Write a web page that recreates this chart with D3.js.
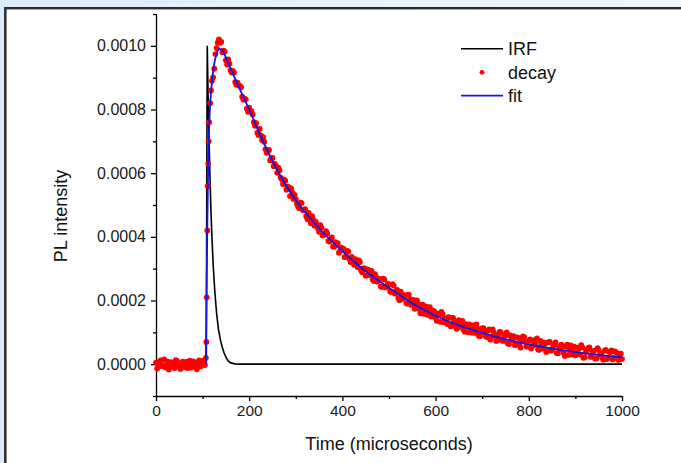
<!DOCTYPE html>
<html>
<head>
<meta charset="utf-8">
<script src="https://cdn.jsdelivr.net/npm/d3@7"></script>
<style>
  body { margin: 0; background: #ffffff; }
  svg { display: block; font-family: "Liberation Sans", Arial, sans-serif; }
</style>
</head>
<body>
<svg class="chart" width="681" height="463"></svg>
<script>
// values are in units of 1e-6
const xTicks = [0, 200, 400, 600, 800, 1000]
const xMinor = [100, 300, 500, 700, 900]
const yTicks = [0, 200, 400, 600, 800, 1000]
const yMinor = [-100, 100, 300, 500, 700, 900, 1100]

// IRF [time, value]
const irf = [[0,0],[108,0],[109,600],[110,1000],[112,830],[114,695],[116,580],[118,480],[120,400],
  [123,305],[126,233],[130,160],[134,110],[138,78],[142,54],[146,36],[150,22],[155,10],[160,4],
  [170,1],[180,0],[1000,0]]

// decay, baseline before the pulse: t=0 step 5 and t=2.5 step 5
const baseValues = [5,-8,12,-3,-10,8,-5,3,-12,10,-6,4,-9,7,-2,-11,9,-4,6,-7,10,-3]
const baseValues2 = [-14,9,-6,15,-2,-17,6,-10,13,-4,-15,8,1,-12,11,-8,4,-16,12,-5,2]
// rising edge [time, value]
const risePoints = [[107,20],[108,70],[109,210],[110,420],[111,560],[112,630],[113,700],[114,760],[116,820],[118,860]]
// decay after the pulse: t=120 step 5
const decayValues = [890,928,993,1020,1012,985,955,957,923,921,886,884,874,840,834,803,806,795,760,757,
  720,719,713,675,670,640,648,629,601,609,581,580,548,555,552,519,518,495,507,484,
  487,455,466,465,435,439,416,429,406,418,387,392,369,383,380,355,360,336,356,331,
  337,312,323,326,296,301,278,297,285,266,283,259,268,243,266,242,250,227,247,229,
  208,228,205,217,190,205,194,174,200,173,182,158,181,165,150,168,146,159,133,157,
  143,126,146,125,136,111,138,122,108,126,100,116,122,98,112,88,112,99,85,109,
  86,99,73,92,100,73,90,66,90,75,60,84,62,76,85,56,73,49,75,61,
  46,73,49,64,42,70,45,61,35,54,61,35,55,29,59,41,28,52,30,53,
  22,43,53,24,42,18,45,32,14,45,20,38,15,40,19,33,16]
// decay after the pulse: t=122.5 step 5
const decayValues2 = [901,974,1010,1010,980,982,941,944,916,916,878,876,870,831,832,793,794,784,749,727,
  739,704,699,664,673,647,622,623,617,586,566,576,558,528,539,532,504,490,506,485,
  465,475,443,453,448,427,437,404,409,410,385,398,369,376,350,366,363,339,354,321,
  328,330,305,321,289,301,298,280,293,261,274,264,244,269,241,252,228,251,222,233,
  201,219,212,191,218,186,202,183,189,160,187,172,155,179,152,165,136,154,164,132,
  140,148,119,145,119,133,117,136,102,120,125,99,109,125,90,105,113,88,105,77,
  109,89,75,101,76,88,100,63,78,88,61,82,52,87,70,55,78,57,69,81,
  45,59,68,38,69,43,56,68,34,47,57,26,61,47,30,55,33,48,60,20,
  39,50,23,40,17,50,30,20,42,16,38,43,19,37,13,33]

// fit [time, value]
const fit = [[107,0],[108,150],[110,420],[112,620],[115,780],[119,870],[124,935],[130,975],[136,990],
  [142,987],[150,963],[160,929],[175,880],[200,800],[230,699],[260,610],[300,515],[350,427],[400,355],
  [450,292],[500,240],[550,191],[600,152],[650,122],[700,98],[750,78],[800,62],[850,49],[900,38],
  [950,29],[1000,22]]

const legendItems = ["IRF", "decay", "fit"]

const svg = d3.select(".chart")

// background and frame
const defs = svg.append("defs")
const grad = defs.append("linearGradient").attr("id", "topGrad")
grad.append("stop").attr("offset", "0%").style("stop-color", "#dbecf8")
grad.append("stop").attr("offset", "100%").style("stop-color", "#f0f7fc")

svg.append("rect").attr("width", 681).attr("height", 463).attr("fill", "url(#topGrad)")
svg.append("rect").attr("x", 6).attr("y", 9).attr("width", 675).attr("height", 454).attr("fill", "white")
svg.append("rect").attr("x", 4).attr("y", 7).attr("width", 677).attr("height", 2.4).attr("fill", "#2a2a2a")
svg.append("rect").attr("x", 4).attr("y", 7).attr("width", 2.6).attr("height", 456).attr("fill", "#333333")

const x = d3.scaleLinear().domain([0, 1000]).range([156, 622])
const y = d3.scaleLinear().domain([-100, 1100]).range([396, 14])

// axes
const xAxis = svg.append("g")
.attr("transform", "translate(0,396)")
.call(d3.axisBottom(x).tickValues(xTicks).tickSize(5).tickPadding(4).tickFormat(d3.format("d")))
svg.append("g")
.attr("transform", "translate(0,396)")
.call(d3.axisBottom(x).tickValues(xMinor).tickSize(3).tickFormat(""))
.call(g => g.select(".domain").remove())

const yAxis = svg.append("g")
.attr("transform", "translate(156,0)")
.call(d3.axisLeft(y).tickValues(yTicks).tickSize(5).tickPadding(5).tickFormat(d => d3.format(".4f")(d * 1e-6)))
svg.append("g")
.attr("transform", "translate(156,0)")
.call(d3.axisLeft(y).tickValues(yMinor).tickSize(3).tickFormat(""))
.call(g => g.select(".domain").remove())

xAxis.select(".domain").attr("d", "M156,0.5H622")
yAxis.select(".domain").attr("d", "M0.5,14V396")
svg.selectAll(".domain, .tick line").style("stroke", "#000").style("stroke-width", "1.3px")
svg.selectAll(".tick text").style("fill", "#1a1a1a")
  .style("font-family", "'Liberation Sans', Arial, sans-serif")
xAxis.selectAll(".tick text").style("font-size", "15.5px")
yAxis.selectAll(".tick text").style("font-size", "16px")

// axis titles
svg.append("text")
.attr("x", 389)
.attr("y", 450)
.attr("text-anchor", "middle")
.style("font-size", "18px")
.style("fill", "#111")
.text("Time (microseconds)")

svg.append("text")
.attr("transform", "translate(67,216) rotate(-90)")
.attr("text-anchor", "middle")
.style("font-size", "18px")
.style("fill", "#111")
.text("PL intensity")

const lineFunc = d3.line()
.x(d => x(d[0]))
.y(d => y(d[1]))
.curve(d3.curveMonotoneX)

const plot = svg.append("g")

// IRF
plot.append("path")
.attr("d", d3.line().x(d => x(d[0])).y(d => y(d[1]))(irf))
.attr("fill", "none")
.style("stroke", "black")
.style("stroke-width", "1.6px")

// decay dots
const decayPts = baseValues.map((v, i) => [i * 5, v])
  .concat(baseValues2.map((v, i) => [2.5 + i * 5, v]))
  .concat(risePoints)
  .concat(decayValues.map((v, i) => [120 + i * 5, v]))
  .concat(decayValues2.map((v, i) => [122.5 + i * 5, v]))

plot.selectAll("circle.decay")
.data(decayPts)
.enter()
.append("circle")
.attr("class", "decay")
.attr("cx", d => x(d[0]))
.attr("cy", d => y(d[1]))
.attr("r", 2.9)
.attr("fill", "#ff0000")

// fit
plot.append("path")
.attr("d", lineFunc(fit))
.attr("fill", "none")
.style("stroke", "#1515e0")
.style("stroke-width", "1.8px")

// legend
const legend = svg.append("g")
const rowY = [48.7, 72.3, 95.7]
legendItems.forEach((name, i) => {
  if (name === "decay") {
    legend.append("circle").attr("cx", 482).attr("cy", rowY[i]).attr("r", 2.4).attr("fill", "#ff0000")
  } else {
    legend.append("line")
    .attr("x1", 461).attr("x2", 503)
    .attr("y1", rowY[i]).attr("y2", rowY[i])
    .style("stroke", name === "IRF" ? "black" : "#1515e0")
    .style("stroke-width", name === "IRF" ? "1.6px" : "1.8px")
  }
  legend.append("text")
  .attr("x", 508)
  .attr("y", rowY[i] + 6.3)
  .style("font-size", "18px")
  .style("fill", "#111")
  .text(name)
})
</script>
</body>
</html>
